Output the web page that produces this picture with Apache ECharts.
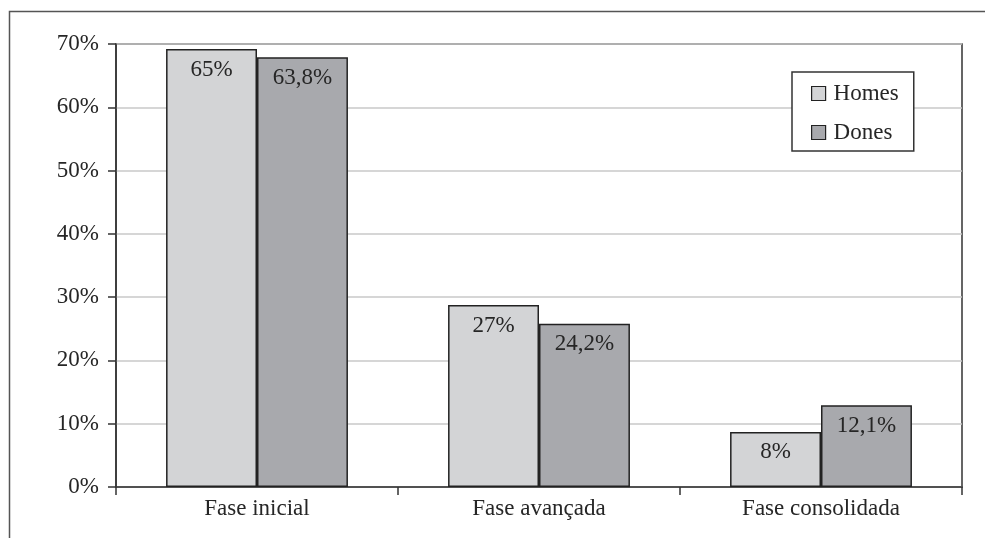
<!DOCTYPE html>
<html>
<head>
<meta charset="utf-8">
<script src="https://cdn.jsdelivr.net/npm/echarts@6/dist/echarts.min.js"></script>
<style>
html,body{margin:0;padding:0;background:#fff;}
#chart{width:985px;height:538px;}
</style>
</head>
<body>
<div id="chart"></div>
<script>
var categories = ['Fase inicial', 'Fase avançada', 'Fase consolidada'];
var seriesNames = ['Homes', 'Dones'];
var homesValues = [69.2, 28.75, 8.7];
var donesValues = [67.9, 25.8, 12.9];
var homesLabels = ['65%', '27%', '8%'];
var donesLabels = ['63,8%', '24,2%', '12,1%'];
var yTicks = [0, 10, 20, 30, 40, 50, 60, 70];

var FONT = '"Liberation Serif", "DejaVu Serif", serif';
var TXT = '#262626';
var FS = 23;

var chart = echarts.init(document.getElementById('chart'));

function barSeries(name, values, labels, color) {
  return {
    name: name,
    type: 'bar',
    data: values,
    barGap: '0%',
    barCategoryGap: '35.5%',
    itemStyle: { color: color, borderColor: '#222', borderWidth: 1.5 },
    label: {
      show: true,
      position: 'insideTop',
      distance: 9,
      fontFamily: FONT,
      fontSize: FS,
      color: TXT,
      formatter: function (p) { return labels[p.dataIndex]; }
    },
    emphasis: { disabled: true }
  };
}

chart.setOption({
  animation: false,
  backgroundColor: '#fff',
  graphic: [{
    type: 'rect',
    left: 7, top: 9,
    shape: { width: 1000, height: 600 },
    style: { fill: 'none', stroke: '#555', lineWidth: 1.5 },
    silent: true
  }],
  grid: {
    left: 116, right: 23, top: 44, bottom: 51,
    show: true, borderColor: '#333', borderWidth: 1.5, backgroundColor: 'transparent'
  },
  legend: {
    orient: 'vertical',
    left: 792, top: 72,
    data: seriesNames,
    backgroundColor: '#fff',
    borderColor: '#333',
    borderWidth: 1.5,
    padding: [10, 15, 7, 19],
    itemGap: 16,
    itemWidth: 14,
    itemHeight: 14,
    icon: 'rect',
    itemStyle: { borderColor: '#222', borderWidth: 1.2 },
    textStyle: { fontFamily: FONT, fontSize: FS, color: TXT, padding: [0, 0, 0, 3] }
  },
  xAxis: {
    type: 'category',
    data: categories,
    axisLine: { show: true, lineStyle: { color: '#333', width: 1.5 } },
    axisTick: { show: true, length: 8, alignWithLabel: false, lineStyle: { color: '#333', width: 1.5 } },
    axisLabel: { margin: 10, fontFamily: FONT, fontSize: FS, color: TXT }
  },
  yAxis: {
    type: 'value',
    min: yTicks[0],
    max: yTicks[yTicks.length - 1],
    interval: 10,
    axisLine: { show: true, lineStyle: { color: '#333', width: 1.5 } },
    axisTick: { show: true, length: 8, lineStyle: { color: '#333', width: 1.5 } },
    axisLabel: { margin: 17, fontFamily: FONT, fontSize: FS, color: TXT, formatter: '{value}%' },
    splitLine: { show: true, lineStyle: { color: '#c8c8c8', width: 1.5 } }
  },
  series: [
    barSeries(seriesNames[0], homesValues, homesLabels, '#d3d4d6'),
    barSeries(seriesNames[1], donesValues, donesLabels, '#a8a9ad')
  ]
});
</script>
</body>
</html>
